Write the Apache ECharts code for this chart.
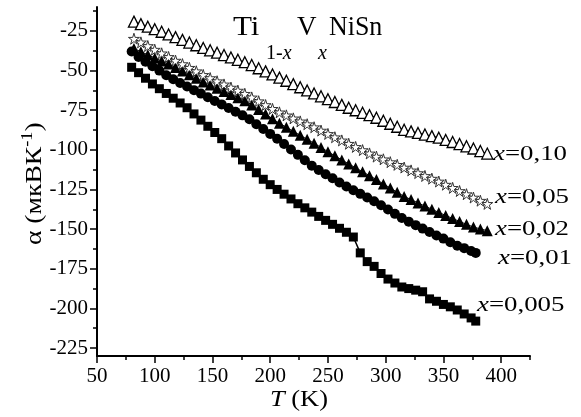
<!DOCTYPE html>
<html>
<head>
<meta charset="utf-8">
<script src="https://cdn.jsdelivr.net/npm/echarts@6/dist/echarts.min.js"></script>
<style>html,body{margin:0;padding:0;background:#fff}#c{width:581px;height:417px}</style>
</head>
<body>
<div id="c"></div>
<script>
// ---- data ----
const temps1 = [80,86,92,98,104,110,116,122,128,134,140,146,152,158,164,170,176,182,188,194,200,206,212,218,224,230,236,242,248,254,260,266,272,278,284,290,296,302,308,314,320,326,332,338,344,350,356,362,368,374,378];
const temps2 = [82,88,94,100,106,112,118,124,130,136,142,148,154,160,166,172,178,184,190,196,202,208,214,220,226,232,238,244,250,256,262,268,274,280,286,292,298,304,310,316,322,328,334,340,346,352,358,364,370,376,382,388];

const alpha005 = [-48,-51.4,-54.9,-58.5,-61.5,-64.5,-67.5,-70.5,-73.5,-77.4,-81.3,-85.2,-89.1,-93,-97.6,-102,-106.4,-110.5,-114.5,-118.6,-122,-125,-128,-131,-134,-136.6,-139.3,-142,-144.5,-147,-149.5,-152,-155,-165,-170.5,-173.5,-178,-181.5,-184,-186.5,-187.5,-188.5,-189.5,-194,-195.5,-197.5,-199,-201,-203.5,-206,-208];
const alpha01 = [-38,-41.5,-44.5,-47.3,-50.1,-53,-55.6,-57.9,-60.1,-62.4,-64.6,-66.9,-69.2,-71.4,-73.7,-76,-78.3,-80.8,-83.9,-86.9,-90,-93.1,-96.4,-99.8,-103.2,-106.6,-110,-112.8,-115.4,-118,-120.6,-123.2,-125.5,-127.8,-130.1,-132.4,-135,-137.7,-140.4,-143,-145.3,-147.5,-149.7,-151.8,-154,-156,-158.3,-160.5,-162,-163.8,-165];
const alpha02 = [-36.2,-38.2,-40.1,-42.1,-44.1,-46,-48.2,-50.4,-52.7,-54.9,-57.2,-59.2,-61.2,-63.2,-65.2,-67.2,-69.1,-71.7,-74.6,-77.5,-80.5,-83.3,-85.8,-88.4,-90.9,-93.4,-95.9,-98.5,-101.2,-103.8,-106.4,-108.9,-111.4,-113.9,-116.3,-118.8,-121.5,-124.1,-126.8,-129.4,-131.4,-133.5,-135.5,-137.5,-139.5,-141.4,-143.3,-145.2,-147,-148.7,-149.9,-151];
const alpha05 = [-30,-32.3,-34.6,-36.9,-39.2,-41.5,-43.8,-46,-48.3,-50.5,-52.8,-54.8,-56.8,-58.8,-60.8,-62.7,-64.7,-67,-69.4,-71.8,-74.2,-76.4,-78.3,-80.2,-82.1,-83.9,-85.8,-87.9,-90,-92.1,-94.1,-96.2,-98.2,-100.2,-102.3,-104.3,-106,-107.8,-109.5,-111.2,-113,-114.7,-116.5,-118.2,-120,-122,-124,-126,-128,-130.1,-132.1,-134.1];
const alpha10 = [-19.2,-20.8,-22.4,-24,-25.6,-27.3,-29,-30.7,-32.4,-34.1,-35.8,-37.3,-38.8,-40.3,-41.8,-43.3,-44.8,-46.6,-48.6,-50.6,-52.5,-54.5,-56.5,-58.6,-60.6,-62.6,-64.5,-66.3,-68.1,-69.9,-71.7,-73.5,-75.1,-76.7,-78.2,-79.8,-81.7,-83.6,-85.5,-87.4,-88.4,-89.4,-90.4,-91.4,-92.4,-93.8,-95.1,-96.4,-97.8,-99.2,-100.8,-102.4];

const xTicks = [50,100,150,200,250,300,350,400];
const xMinorTicks = [75,125,175,225,275,325,375,425];
const yTicks = [-225,-200,-175,-150,-125,-100,-75,-50,-25];
const yMinorTicks = [-212.5,-187.5,-162.5,-137.5,-112.5,-87.5,-62.5,-37.5,-12.5];

const seriesNames = ['x=0,005','x=0,01','x=0,02','x=0,05','x=0,10'];
const labelValues = ['=0,005','=0,01','=0,02','=0,05','=0,10'];

// ---- helpers ----
const zip = (a, b) => a.map((v, i) => [v, b[i]]);
const SERIF = '"Liberation Serif", "Times New Roman", serif';
const ctx = document.createElement('canvas').getContext('2d');
function tw(text, font) { ctx.font = font; return ctx.measureText(text).width; }
function txt(x, y, text, font, extra) {
  return Object.assign({
    type: 'text', x: x, y: y,
    style: { text: text, font: font, fill: '#000', align: 'left', verticalAlign: 'middle', textAlign: 'left', textVerticalAlign: 'middle' }
  }, extra || {});
}

const chart = echarts.init(document.getElementById('c'), null, { renderer: 'canvas' });

const tickFont = { color: '#000', fontFamily: SERIF, fontSize: 21 };

function seriesLabel(x, y, value) {
  const fi = 'italic 22px ' + SERIF, fn = '22px ' + SERIF;
  return { type: 'group', x: x, y: y, scaleX: 1.22, children: [
    txt(0, 0, 'x', fi), txt(tw('x', fi), 0, value, fn)
  ]};
}

const fY = '24px ' + SERIF, fYs = '16px ' + SERIF;
const wY1 = tw('α (мкВК', fY), wY2 = tw('-1', fYs);
const fT = 'italic 24px ' + SERIF;

const graphic = [
  // title Ti(1-x)V(x)NiSn
  txt(233, 28.2, 'Ti', '27px ' + SERIF, { scaleX: 1.15 }),
  txt(266, 53.3, '1-', '20px ' + SERIF),
  txt(266 + tw('1-', '20px ' + SERIF), 53.3, 'x', 'italic 20px ' + SERIF),
  txt(297, 28.2, 'V', '27px ' + SERIF),
  txt(318, 53.3, 'x', 'italic 20px ' + SERIF),
  txt(329, 28.2, 'NiSn', '27px ' + SERIF, { scaleX: 0.96 }),
  // series labels
  seriesLabel(493, 154.3, labelValues[4]),
  seriesLabel(495, 197.6, labelValues[3]),
  seriesLabel(495, 229.3, labelValues[2]),
  seriesLabel(498, 258.3, labelValues[1]),
  seriesLabel(477, 305.6, labelValues[0]),
  // y axis name
  { type: 'group', x: 35, y: 245, rotation: Math.PI / 2, scaleX: 1.15, children: [
    txt(0, 0, 'α (мкВК', fY),
    txt(wY1, -7, '-1', fYs),
    txt(wY1 + wY2, 0, ')', fY)
  ]},
  // x axis name
  { type: 'group', x: 270, y: 400, scaleX: 1.1, children: [
    txt(0, 0, 'T', fT),
    txt(tw('T', fT), 0, ' (K)', '24px ' + SERIF)
  ]}
];

const option = {
  animation: false,
  backgroundColor: '#fff',
  grid: { left: 97, right: 51, top: 7, bottom: 61, containLabel: false },
  xAxis: [
    { type: 'value', min: 50, max: 425, position: 'bottom',
      axisLine: { show: true, lineStyle: { color: '#000', width: 2 } },
      axisTick: { show: true, inside: false, length: 7, customValues: xTicks, lineStyle: { color: '#000', width: 1.5 } },
      axisLabel: Object.assign({ customValues: xTicks, margin: 10 }, tickFont),
      splitLine: { show: false } },
    { type: 'value', min: 50, max: 425, position: 'bottom',
      axisLine: { show: false },
      axisTick: { show: true, inside: false, length: 4, customValues: xMinorTicks, lineStyle: { color: '#000', width: 1.5 } },
      axisLabel: { show: false }, splitLine: { show: false } }
  ],
  yAxis: [
    { type: 'value', min: -230, max: -10, position: 'left',
      axisLine: { show: true, lineStyle: { color: '#000', width: 2 } },
      axisTick: { show: true, inside: false, length: 7, customValues: yTicks, lineStyle: { color: '#000', width: 1.5 } },
      axisLabel: Object.assign({ customValues: yTicks, margin: 9 }, tickFont),
      splitLine: { show: false } },
    { type: 'value', min: -230, max: -10, position: 'left',
      axisLine: { show: false },
      axisTick: { show: true, inside: false, length: 4, customValues: yMinorTicks, lineStyle: { color: '#000', width: 1.5 } },
      axisLabel: { show: false }, splitLine: { show: false } }
  ],
  graphic: graphic,
  series: [
    { name: seriesNames[0], type: 'line', data: zip(temps1, alpha005), symbol: 'rect', symbolSize: 9,
      itemStyle: { color: '#000' }, lineStyle: { color: '#000', width: 1.5 } },
    { name: seriesNames[1], type: 'line', data: zip(temps1, alpha01), symbol: 'circle', symbolSize: 10,
      itemStyle: { color: '#000' }, lineStyle: { color: '#000', width: 1 } },
    { name: seriesNames[2], type: 'line', data: zip(temps2, alpha02), symbol: 'triangle', symbolSize: 11,
      itemStyle: { color: '#000' }, lineStyle: { color: '#000', width: 1 } },
    { name: seriesNames[3], type: 'line', data: zip(temps2, alpha05), symbol: 'path://M50,0 L61,35 L98,35 L68,57 L79,92 L50,70 L21,92 L32,57 L2,35 L39,35 Z', symbolSize: 11,
      itemStyle: { color: '#fff', borderColor: '#333', borderWidth: 1 }, lineStyle: { color: '#000', width: 1 } },
    { name: seriesNames[4], type: 'line', data: zip(temps2, alpha10), symbol: 'triangle', symbolSize: 11,
      itemStyle: { color: '#fff', borderColor: '#000', borderWidth: 1.3 }, lineStyle: { color: '#000', width: 1 } }
  ]
};
chart.setOption(option);
</script>
</body>
</html>
